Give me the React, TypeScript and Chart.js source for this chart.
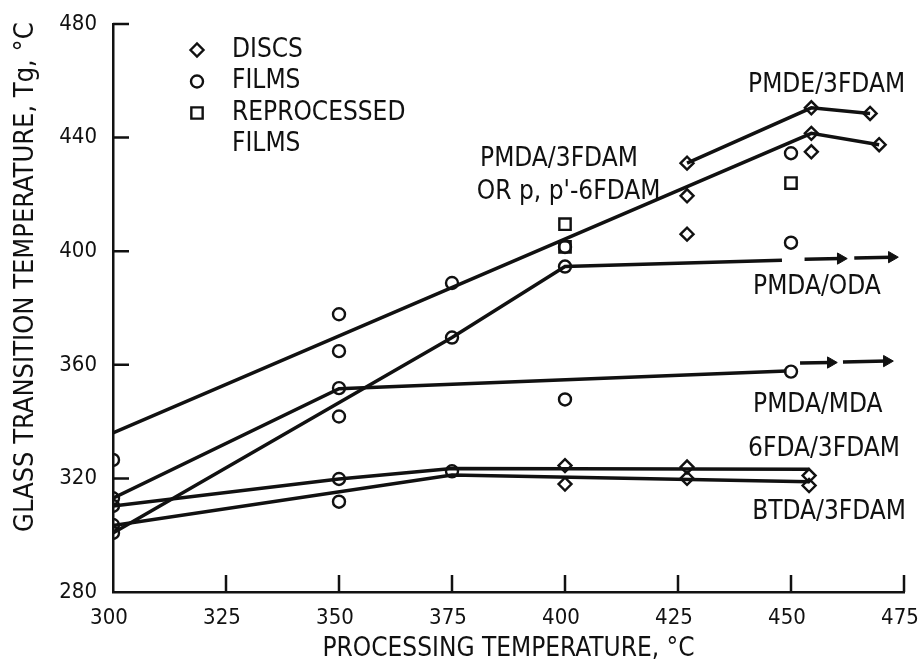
import React, { useEffect, useRef } from 'react';
import { Chart, registerables } from 'chart.js';
import { drawPoint } from 'chart.js/helpers';

Chart.register(...registerables);

const FONT = '"Liberation Sans Narrow", "DejaVu Sans Condensed", "Arial Narrow", sans-serif';
const INK = '#111111';

// Axis settings
const xMin = 300;
const xMax = 475;
const xStep = 25;
const yMin = 280;
const yMax = 480;
const yStep = 40;

// Marker data (processing temperature, Tg)
const discsX = [427, 427, 427, 454.5, 454.5, 454.5, 467.5, 469.5, 400, 400, 427, 427, 454, 454];
const discsY = [431, 419.5, 406, 450.5, 441.5, 435, 448.5, 437.5, 324.5, 318, 324, 320, 321, 317.5];

const filmsX = [300, 300, 300, 300, 300, 350, 350, 350, 350, 350, 350, 375, 375, 375, 400, 400, 400, 450, 450, 450];
const filmsY = [326.5, 313, 310.3, 303.6, 300.8, 377.8, 364.8, 351.8, 341.8, 319.8, 311.8, 388.8, 369.6, 322.5, 401.5, 394.6, 347.8, 434.5, 403, 357.6];

const reprocX = [400, 400, 450];
const reprocY = [409.5, 401.5, 424];

// Fitted lines
const pmde3fdamX = [427, 454.5, 467.5];
const pmde3fdamY = [431, 450.5, 448.5];

const pmda3fdamX = [300, 454.5, 469.5];
const pmda3fdamY = [336, 441.5, 437.5];

const pmdaOdaX = [300, 375, 400, 448];
const pmdaOdaY = [300.8, 369.6, 394.6, 396.8];

const pmdaMdaX = [300, 350, 449];
const pmdaMdaY = [313, 351.6, 357.8];

const fda3fdamX = [300, 350, 375, 454];
const fda3fdamY = [310.3, 319.8, 323.5, 323.2];

const btda3fdamX = [300, 375, 454];
const btda3fdamY = [303.4, 321.2, 318.8];

// Dashed arrow continuations
const odaArrowsX = [[453, 461], [464, 472.3]];
const odaArrowsY = [[397.2, 397.4], [397.6, 397.9]];
const mdaArrowsX = [[452, 458.8], [461.5, 471.2]];
const mdaArrowsY = [[360.6, 360.8], [361.0, 361.3]];

// Curve labels
const curveLabels = [
  { text: 'PMDE/3FDAM', x: 440.5, y: 458.5 },
  { text: 'PMDA/3FDAM', x: 381.2, y: 432.5 },
  { text: "OR p, p'-6FDAM", x: 380.5, y: 420.8 },
  { text: 'PMDA/ODA', x: 441.6, y: 387.4 },
  { text: 'PMDA/MDA', x: 441.6, y: 345.8 },
  { text: '6FDA/3FDAM', x: 440.5, y: 330.2 },
  { text: 'BTDA/3FDAM', x: 441.4, y: 308.2 },
];

const legendEntries = [
  { style: 'rectRot', radius: 6.5, lines: ['DISCS'] },
  { style: 'circle', radius: 6, lines: ['FILMS'] },
  { style: 'rect', radius: 8, lines: ['REPROCESSED', 'FILMS'] },
];

const xTitle = 'PROCESSING TEMPERATURE, °C';
const yTitle = '        GLASS TRANSITION TEMPERATURE, Tg, °C';

const zip = (xs: number[], ys: number[]) => xs.map((x, i) => ({ x, y: ys[i] }));

const lineDs = (label: string, xs: number[], ys: number[]) => ({
  type: 'line' as const,
  label,
  data: zip(xs, ys),
  borderColor: INK,
  borderWidth: 3.5,
  pointRadius: 0,
  fill: false,
  tension: 0,
});

const arrowDs = (label: string, xs: number[], ys: number[]) => ({
  type: 'line' as const,
  label,
  data: zip(xs, ys),
  borderColor: INK,
  borderWidth: 3.5,
  pointRadius: [0, 6.5],
  pointStyle: 'triangle',
  rotation: 90,
  pointBackgroundColor: INK,
  pointBorderColor: INK,
  pointBorderWidth: 1,
  fill: false,
});

const markerDs = (label: string, xs: number[], ys: number[], style: string, radius: number) => ({
  type: 'scatter' as const,
  label,
  data: zip(xs, ys),
  pointStyle: style,
  pointRadius: radius,
  pointBorderWidth: 2.4,
  pointBorderColor: INK,
  pointBackgroundColor: 'rgba(0,0,0,0)',
  showLine: false,
});

const annotationPlugin = {
  id: 'annotations',
  afterDatasetsDraw(chart: any) {
    const { ctx, scales, chartArea } = chart;
    const xs = scales.x;
    const ys = scales.y;
    ctx.save();
    ctx.strokeStyle = INK;
    // inward tick marks
    ctx.lineWidth = 2.5;
    ctx.beginPath();
    for (let v = yMin + yStep; v <= yMax; v += yStep) {
      const py = ys.getPixelForValue(v);
      ctx.moveTo(chartArea.left, py);
      ctx.lineTo(chartArea.left + 16, py);
    }
    for (let v = xMin + xStep; v <= xMax; v += xStep) {
      const px = xs.getPixelForValue(v);
      ctx.moveTo(px, chartArea.bottom);
      ctx.lineTo(px, chartArea.bottom - 17);
    }
    ctx.stroke();
    // curve labels
    ctx.fillStyle = INK;
    ctx.font = `26px ${FONT}`;
    ctx.textAlign = 'left';
    ctx.textBaseline = 'middle';
    curveLabels.forEach((l) => {
      ctx.fillText(l.text, xs.getPixelForValue(l.x), ys.getPixelForValue(l.y));
    });
    // legend
    const mx = chartArea.left + 84;
    const tx = chartArea.left + 119;
    let ty = chartArea.top + 26;
    legendEntries.forEach((e) => {
      ctx.save();
      ctx.fillStyle = 'rgba(0,0,0,0)';
      ctx.lineWidth = 2.4;
      drawPoint(ctx, { pointStyle: e.style as any, radius: e.radius, borderWidth: 2.4, rotation: 0 } as any, mx, ty);
      ctx.restore();
      e.lines.forEach((line) => {
        ctx.fillText(line, tx, ty);
        ty += 31.5;
      });
    });
    ctx.restore();
  },
};

export default function App() {
  const ref = useRef<HTMLCanvasElement | null>(null);
  useEffect(() => {
    if (!ref.current) return;
    const chart = new Chart(ref.current, {
      type: 'scatter',
      data: {
        datasets: [
          lineDs('PMDE/3FDAM', pmde3fdamX, pmde3fdamY),
          lineDs('PMDA/3FDAM', pmda3fdamX, pmda3fdamY),
          lineDs('PMDA/ODA', pmdaOdaX, pmdaOdaY),
          lineDs('PMDA/MDA', pmdaMdaX, pmdaMdaY),
          lineDs('6FDA/3FDAM', fda3fdamX, fda3fdamY),
          lineDs('BTDA/3FDAM', btda3fdamX, btda3fdamY),
          arrowDs('ODA arrow 1', odaArrowsX[0], odaArrowsY[0]),
          arrowDs('ODA arrow 2', odaArrowsX[1], odaArrowsY[1]),
          arrowDs('MDA arrow 1', mdaArrowsX[0], mdaArrowsY[0]),
          arrowDs('MDA arrow 2', mdaArrowsX[1], mdaArrowsY[1]),
          markerDs('DISCS', discsX, discsY, 'rectRot', 6.5),
          markerDs('FILMS', filmsX, filmsY, 'circle', 6),
          markerDs('REPROCESSED FILMS', reprocX, reprocY, 'rect', 8),
        ] as any,
      },
      plugins: [annotationPlugin],
      options: {
        responsive: false,
        animation: false,
        layout: { padding: { left: 0, right: 15, top: 24, bottom: 0 } },
        plugins: {
          legend: { display: false },
          tooltip: { enabled: false },
          title: { display: false },
        },
        scales: {
          x: {
            type: 'linear',
            min: xMin,
            max: xMax,
            afterFit: (s: any) => { s.height = 73; s.paddingLeft = 0; s.paddingRight = 0; },
            ticks: { stepSize: xStep, color: INK, font: { family: FONT, size: 22 }, padding: 13, labelOffset: -4 },
            grid: { display: true, drawOnChartArea: false, drawTicks: false },
            border: { display: true, color: INK, width: 2.5 },
            title: {
              display: true,
              text: xTitle,
              color: INK,
              font: { family: FONT, size: 26 },
              padding: { top: 0, bottom: 0 },
            },
          },
          y: {
            type: 'linear',
            min: yMin,
            max: yMax,
            afterFit: (s: any) => { s.width = 113; s.paddingTop = 0; s.paddingBottom = 0; },
            ticks: { stepSize: yStep, color: INK, font: { family: FONT, size: 22 }, padding: 16 },
            grid: { display: true, drawOnChartArea: false, drawTicks: false },
            border: { display: true, color: INK, width: 2.5 },
            title: {
              display: true,
              text: yTitle,
              color: INK,
              font: { family: FONT, size: 27 },
              padding: { top: 10, bottom: 0 },
            },
          },
        },
      },
    });
    return () => chart.destroy();
  }, []);
  return (
    <div style={{ position: 'fixed', left: 0, top: 0, width: 919, height: 665, background: '#fff' }}>
      <canvas ref={ref} width={919} height={665} style={{ display: 'block' }} />
    </div>
  );
}
